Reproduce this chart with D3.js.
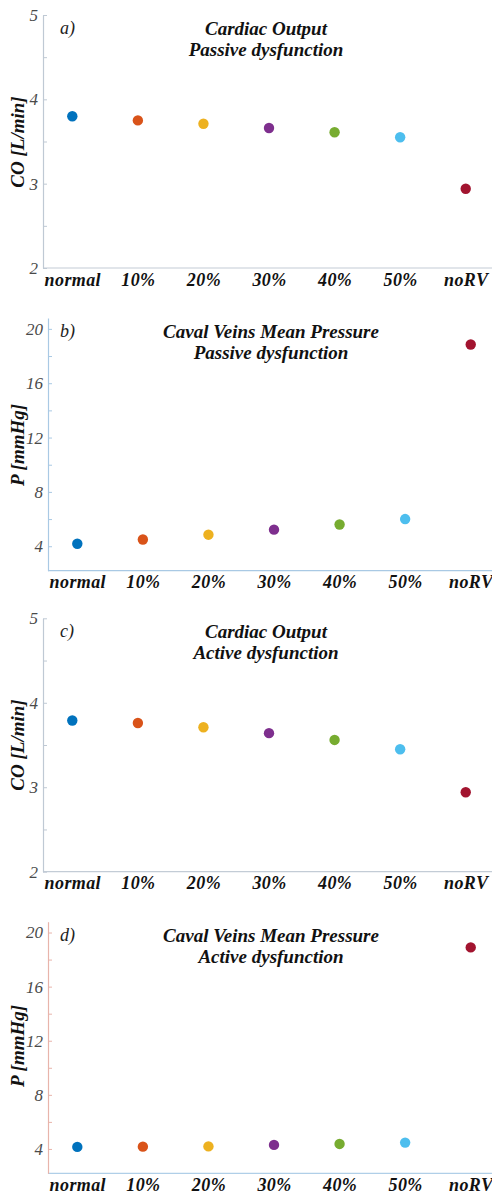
<html>
<head>
<style>
  body { margin: 0; background: #fff; }
</style>
</head>
<body>
<div id="chart"></div>
<script src="https://d3js.org/d3.v7.min.js"></script>
<script>
// values
var categories = ["normal", "10%", "20%", "30%", "40%", "50%", "noRV"];
var coPassive = [3.80, 3.75, 3.71, 3.66, 3.61, 3.55, 2.94];
var pPassive = [4.18, 4.5, 4.85, 5.22, 5.6, 6.0, 18.85];
var coActive = [3.79, 3.76, 3.71, 3.64, 3.56, 3.45, 2.94];
var pActive = [4.15, 4.17, 4.19, 4.3, 4.37, 4.47, 18.9];
var dotColors = ["#0072BD", "#D95319", "#EDB120", "#7E2F8E", "#77AC30", "#4DBEEE", "#A2142F"];
var coTicks = [2, 3, 4, 5];
var coMinor = [2.5, 3.5, 4.5];
var pTicks = [4, 8, 12, 16, 20];
var pMinor = [6, 10, 14, 18];

var W = 492, H = 1195;

var panels = [
  { tag: "a)", values: coPassive, t1: "Cardiac Output", t2: "Passive dysfunction", ylab: "CO [L/min]",
    ticks: coTicks, minor: coMinor, domain: [2, 5], top: 15, bottom: 268, ax: 43, x0: 72.3,
    ylabY: 142, yColor: "#bfc9d4", xColor: "#c3ccd6" },
  { tag: "b)", values: pPassive, t1: "Caval Veins Mean Pressure", t2: "Passive dysfunction", ylab: "P [mmHg]",
    ticks: pTicks, minor: pMinor, domain: [2.2, 20.8], top: 318, bottom: 570.7, ax: 48, x0: 77.3,
    ylabY: 445, yColor: "#a9c9e4", xColor: "#a9c9e4" },
  { tag: "c)", values: coActive, t1: "Cardiac Output", t2: "Active dysfunction", ylab: "CO [L/min]",
    ticks: coTicks, minor: coMinor, domain: [2, 5], top: 618.3, bottom: 871.7, ax: 43, x0: 72.3,
    ylabY: 745, yColor: "#bfc9d4", xColor: "#c3ccd6" },
  { tag: "d)", values: pActive, t1: "Caval Veins Mean Pressure", t2: "Active dysfunction", ylab: "P [mmHg]",
    ticks: pTicks, minor: pMinor, domain: [2.2, 20.8], top: 921.7, bottom: 1173.3, ax: 48, x0: 77.3,
    ylabY: 1046, yColor: "#e8b4ab", xColor: "#b0cfe8" }
];

var svg = d3.select("#chart").append("svg")
  .attr("width", W)
  .attr("height", H);

panels.forEach(function (p) {
  var g = svg.append("g");
  var step = 65.57;
  var x = d3.scalePoint().domain(categories).range([p.x0, p.x0 + step * 6]);
  var y = d3.scaleLinear().domain(p.domain).range([p.bottom, p.top]);
  var y0 = y(p.domain[0]), yTop = y(p.domain[1]);

  // x axis line runs to the page edge
  g.append("line")
    .attr("x1", p.ax).attr("x2", W)
    .attr("y1", y0).attr("y2", y0)
    .attr("stroke", p.xColor).attr("stroke-width", 1.2);

  // y axis, major ticks inward
  var ya = g.append("g")
    .attr("transform", "translate(" + p.ax + ",0)")
    .call(d3.axisLeft(y).tickValues(p.ticks).tickFormat(d3.format("d"))
      .tickSizeInner(-4).tickSizeOuter(0).tickPadding(5));
  ya.select(".domain").attr("stroke", p.yColor).attr("stroke-width", 1.2);
  ya.selectAll(".tick line").attr("stroke", p.yColor);
  ya.selectAll(".tick text")
    .style("font-style", "italic")
    .style("font-size", "17px")
    .attr("fill", "#4a4a4a");

  // minor ticks
  var ym = g.append("g")
    .attr("transform", "translate(" + p.ax + ",0)")
    .call(d3.axisLeft(y).tickValues(p.minor).tickSizeInner(-4).tickSizeOuter(0).tickFormat(""));
  ym.select(".domain").remove();
  ym.selectAll(".tick line").attr("stroke", p.yColor);

  // category labels
  var xa = g.append("g")
    .attr("transform", "translate(0," + y0 + ")")
    .call(d3.axisBottom(x).tickSize(0).tickPadding(5));
  xa.select(".domain").remove();
  xa.selectAll(".tick text")
    .style("font-style", "italic")
    .style("font-weight", "bold")
    .style("font-size", "18px")
    .attr("letter-spacing", 0.4)
    .attr("fill", "#111");

  // dots
  g.selectAll("circle")
    .data(p.values)
    .enter()
    .append("circle")
    .attr("cx", function (d, i) { return x(categories[i]); })
    .attr("cy", function (d) { return y(d); })
    .attr("r", 5.2)
    .attr("fill", function (d, i) { return dotColors[i]; });

  // titles
  var cx = p.ax + 223;
  [p.t1, p.t2].forEach(function (t, k) {
    g.append("text")
      .attr("x", cx).attr("y", yTop + 20 + k * 21)
      .attr("text-anchor", "middle")
      .style("font-style", "italic").style("font-weight", "bold")
      .style("font-size", "19px").attr("fill", "#111")
      .text(t);
  });

  g.append("text")
    .attr("x", 60).attr("y", yTop + 19)
    .style("font-style", "italic")
    .style("font-size", "18px").attr("fill", "#222")
    .text(p.tag);

  g.append("text")
    .attr("transform", "translate(24," + p.ylabY + ") rotate(-90)")
    .attr("text-anchor", "middle")
    .style("font-style", "italic").style("font-weight", "bold")
    .style("font-size", "19px").attr("fill", "#111")
    .text(p.ylab);
});

svg.selectAll("text").style("font-family", "'Liberation Serif'");
</script>
</body>
</html>
